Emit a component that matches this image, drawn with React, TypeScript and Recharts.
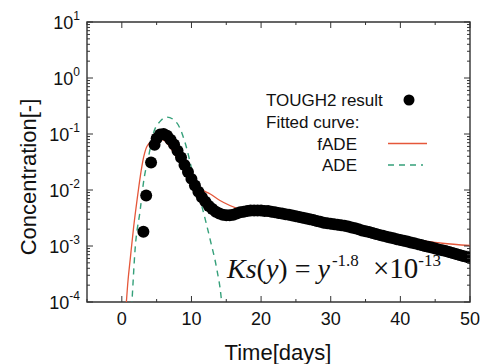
import { ComposedChart, XAxis, YAxis, Scatter, Line, ReferenceArea } from 'recharts'

// chart box
const W = 484
const H = 364
const MARGIN = { top: 22, right: 14, bottom: 0, left: 0 }
const Y_AXIS_W = 87
const X_AXIS_H = 62
const PLOT_W = W - MARGIN.left - MARGIN.right - Y_AXIS_W
const PLOT_H = H - MARGIN.top - MARGIN.bottom - X_AXIS_H
const TM_Y = 7
const TM_X = 9
const FONT = '"Liberation Sans", Arial, sans-serif'
const SERIF = '"Liberation Serif", "Times New Roman", serif'

// TOUGH2 result (scatter)
const toughTime = [
  3.1, 3.5, 4.2, 4.7,
  5, 5.5, 6, 6.5, 7, 7.5, 8, 8.5, 9, 9.5,
  10, 10.5, 11, 11.5, 12, 12.5, 13, 13.5, 14, 14.5,
  15, 15.5, 16, 16.5, 17, 17.5, 18, 18.5, 19, 19.5,
  20, 20.5, 21, 21.5, 22, 22.5, 23, 23.5, 24, 24.5,
  25, 25.5, 26, 26.5, 27, 27.5, 28, 28.5, 29, 29.5,
  30, 30.5, 31, 31.5, 32, 32.5, 33, 33.5, 34, 34.5,
  35, 35.5, 36, 36.5, 37, 37.5, 38, 38.5, 39, 39.5,
  40, 40.5, 41, 41.5, 42, 42.5, 43, 43.5, 44, 44.5,
  45, 45.5, 46, 46.5, 47, 47.5, 48, 48.5, 49, 49.5, 50,
]
const toughConc = [
  0.0018, 0.008, 0.031, 0.064,
  0.083, 0.098, 0.1, 0.093, 0.079, 0.065, 0.05, 0.038, 0.028, 0.021,
  0.0158, 0.012, 0.0093, 0.0074, 0.0062, 0.0052, 0.0046, 0.0041, 0.0038, 0.0036,
  0.00355, 0.00355, 0.0036, 0.0038, 0.004, 0.0041, 0.0042, 0.0043, 0.0043, 0.0043,
  0.0043, 0.0042, 0.0042, 0.0041, 0.004, 0.0039, 0.0038, 0.0037, 0.0036, 0.0035,
  0.0034, 0.0033, 0.0032, 0.0031, 0.003, 0.0029, 0.0028, 0.0027, 0.0026, 0.00255,
  0.0025, 0.00245, 0.0024, 0.00235, 0.0023, 0.00222, 0.00215, 0.00208, 0.002, 0.0019,
  0.00183, 0.00177, 0.0017, 0.00164, 0.00158, 0.00152, 0.00147, 0.00142, 0.00137, 0.00132,
  0.00128, 0.00124, 0.0012, 0.00116, 0.00112, 0.00108, 0.00104, 0.001, 0.00097, 0.00094,
  0.0009, 0.00087, 0.00084, 0.00081, 0.00078, 0.00075, 0.00072, 0.00069, 0.00066, 0.00064, 0.00061,
]

// fitted fADE
const fadeTime = [0.6, 0.9, 1.2, 1.7, 2.2, 2.65, 3.1, 3.6, 4.3, 5.3, 6, 7, 8.4, 9.8, 11.3, 12.7, 14.1, 17, 20.3, 25.1, 29.4, 35, 40, 43, 46, 50]
const fadeConc = [0.00008, 0.00025, 0.00057, 0.0022, 0.0068, 0.0174, 0.037, 0.06, 0.074, 0.081, 0.078, 0.056, 0.03, 0.0174, 0.0105, 0.0085, 0.0065, 0.0045, 0.0036, 0.003, 0.0024, 0.0018, 0.00135, 0.00125, 0.00112, 0.00102]

// fitted ADE
const adeTime = [1.4, 1.45, 1.9, 2.65, 3.1, 3.85, 4.55, 5.5, 6.5, 7.9, 9.1, 10.3, 11.5, 12.7, 13.65, 14.25, 14.4]
const adeConc = [0.00008, 0.0001, 0.00085, 0.0045, 0.0133, 0.04, 0.104, 0.168, 0.2, 0.158, 0.069, 0.0174, 0.0051, 0.00128, 0.00038, 0.000126, 0.00008]

const xTicks = [-5, 0, 5, 10, 15, 20, 25, 30, 35, 40, 45, 50]
const xLabels = [0, 10, 20, 30, 40, 50]
const yDecades = [1e-4, 1e-3, 1e-2, 1e-1, 1, 10]
const yMinor = [2, 3, 4, 5, 6, 7, 8, 9]
const yTicks = [...yDecades, ...yDecades.slice(0, -1).flatMap((d) => yMinor.map((m) => m * d))]

const toughData = toughTime.map((t, i) => ({ t, c: toughConc[i] }))
const fadeData = fadeTime.map((t, i) => ({ t, c: fadeConc[i] }))
const adeData = adeTime.map((t, i) => ({ t, c: adeConc[i] }))

const RED = '#e5573a'
const GREEN = '#35a07a'
const AXIS = '#333'

function YTick(props: any) {
  const { x, y, payload } = props
  const v = payload.value
  const lg = Math.log10(v)
  const exp = Math.round(lg)
  const major = Math.abs(lg - exp) < 1e-6
  const len = major ? 6 : 3
  const ax = x + TM_Y
  return (
    <g>
      <line x1={ax} x2={ax + len} y1={y} y2={y} stroke={AXIS} strokeWidth={1} />
      <line x1={ax + PLOT_W} x2={ax + PLOT_W - len} y1={y} y2={y} stroke={AXIS} strokeWidth={1} />
      {major && (
        <text x={x} y={y + 1} dy="0.35em" textAnchor="end" fontFamily={FONT} fontSize={18} fill="#111">
          10
          <tspan dy={-9} fontSize={12}>
            {exp}
          </tspan>
        </text>
      )}
    </g>
  )
}

function XTick(props: any) {
  const { x, y, payload } = props
  const v = payload.value
  const major = xLabels.includes(v)
  const len = major ? 6 : 3
  const ay = y - TM_X
  return (
    <g>
      <line x1={x} x2={x} y1={ay} y2={ay - len} stroke={AXIS} strokeWidth={1} />
      <line x1={x} x2={x} y1={ay - PLOT_H} y2={ay - PLOT_H + len} stroke={AXIS} strokeWidth={1} />
      {major && (
        <text x={x} y={y} dy="0.75em" textAnchor="middle" fontFamily={FONT} fontSize={18} fill="#111">
          {v}
        </text>
      )}
    </g>
  )
}

const Dot = (props: any) => <circle cx={props.cx} cy={props.cy} r={6} fill="#000" />

export default function App() {
  return (
    <div style={{ position: 'absolute', left: 0, top: 0, width: W, height: H, background: '#fff' }}>
      <ComposedChart width={W} height={H} margin={MARGIN}>
        <XAxis
          dataKey="t"
          type="number"
          domain={[-5, 50]}
          ticks={xTicks}
          interval={0}
          allowDataOverflow
          height={X_AXIS_H}
          axisLine={false}
          tickLine={false}
          tickSize={0}
          tickMargin={TM_X}
          tick={<XTick />}
        />
        <YAxis
          dataKey="c"
          scale="log"
          domain={[1e-4, 10]}
          ticks={yTicks}
          interval={0}
          allowDataOverflow
          width={Y_AXIS_W}
          axisLine={false}
          tickLine={false}
          tickSize={0}
          tickMargin={TM_Y}
          tick={<YTick />}
        />
        <ReferenceArea x1={-5} x2={50} y1={1e-4} y2={10} fill="none" stroke={AXIS} strokeWidth={1.4} fillOpacity={0} />
        <Scatter data={toughData} dataKey="c" shape={Dot} isAnimationActive={false} />
        <Line data={adeData} dataKey="c" type="monotone" stroke={GREEN} strokeWidth={1.4} strokeDasharray="6 5" dot={false} isAnimationActive={false} />
        <Line data={fadeData} dataKey="c" type="monotone" stroke={RED} strokeWidth={1.3} dot={false} isAnimationActive={false} />

        {/* axis titles */}
        <text x={28} y={177} transform="rotate(-90 28 177)" textAnchor="middle" dy="0.35em" fontFamily={FONT} fontSize={22} fill="#111">
          Concentration[-]
        </text>
        <text x={278} y={352} textAnchor="middle" dy="0.35em" fontFamily={FONT} fontSize={22} fill="#111">
          Time[days]
        </text>

        {/* legend */}
        <g fontFamily={FONT} fontSize={17} fill="#111">
          <text x={266} y={100} dy="0.35em">TOUGH2 result</text>
          <circle cx={409} cy={100} r={5.5} fill="#000" />
          <text x={266} y={122} dy="0.35em">Fitted curve:</text>
          <text x={357} y={144} dy="0.35em" textAnchor="end">fADE</text>
          <line x1={388} x2={427} y1={143.5} y2={143.5} stroke={RED} strokeWidth={1.4} />
          <text x={357} y={165} dy="0.35em" textAnchor="end">ADE</text>
          <line x1={388} x2={423} y1={165} y2={165} stroke={GREEN} strokeWidth={1.4} strokeDasharray="6 5" />
        </g>

        {/* formula */}
        <g fontFamily={SERIF} fill="#111">
          <text x={227} y={278} fontSize={28}>
            <tspan fontStyle="italic">Ks</tspan>(<tspan fontStyle="italic">y</tspan>) = <tspan fontStyle="italic">y</tspan>
            <tspan dx={2} dy={-12} fontSize={17}>-1.8</tspan>
          </text>
          <text x={373} y={278} fontSize={29}>
            ×10
            <tspan dy={-12} fontSize={17}>-13</tspan>
          </text>
        </g>
      </ComposedChart>
    </div>
  )
}
